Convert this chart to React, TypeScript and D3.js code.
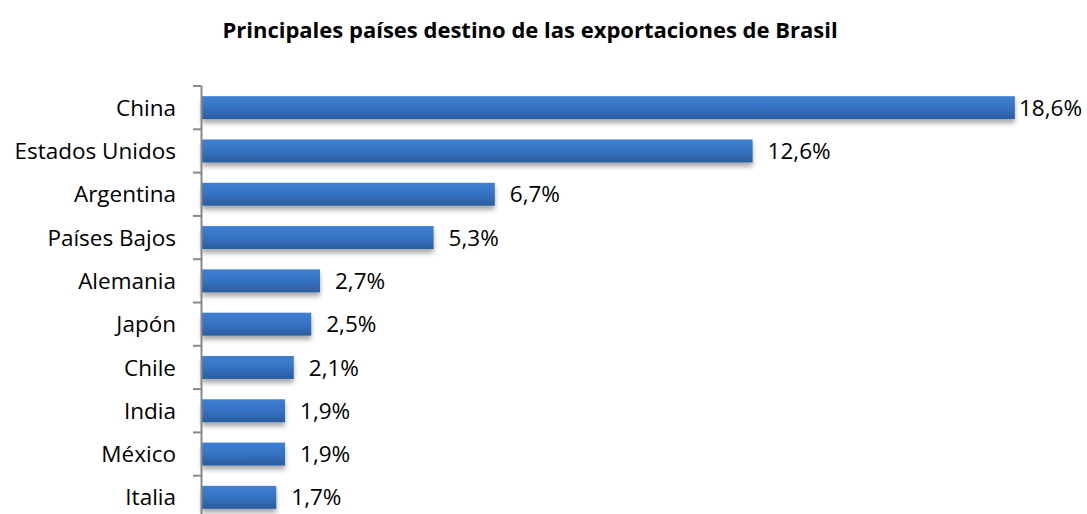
import React from "react";
import * as d3 from "d3";

const countries = ["China", "Estados Unidos", "Argentina", "Países Bajos", "Alemania", "Japón", "Chile", "India", "México", "Italia"];
const shares = [18.6, 12.6, 6.7, 5.3, 2.7, 2.5, 2.1, 1.9, 1.9, 1.7];
const title = "Principales países destino de las exportaciones de Brasil";

const W = 1087;
const H = 514;
const left = 202;
const top = 86;
const step = 43.3;

export default function App() {
  const x = d3.scaleLinear().domain([0, 20]).range([left, left + 874]);
  const y = d3.scaleBand().domain(countries).range([top, top + step * countries.length]).paddingInner(0.47).paddingOuter(0.235);
  const fmt = (v: number) => v.toFixed(1).replace(".", ",") + "%";
  const font = "'Open Sans', sans-serif";
  const tickYs = d3.range(countries.length + 1).map((i) => top + i * step);
  return (
    <svg width={W} height={H} style={{ position: "absolute", left: 0, top: 0, background: "#fff" }} fontFamily={font}>
      <defs>
        <linearGradient id="barGrad" x1="0" y1="0" x2="0" y2="1">
          <stop offset="0" stopColor="#3f80d4" />
          <stop offset="0.5" stopColor="#3672c2" />
          <stop offset="1" stopColor="#2b5c9e" />
        </linearGradient>
        <filter id="shadow" x="-5%" y="-30%" width="110%" height="190%">
          <feGaussianBlur in="SourceAlpha" stdDeviation="2.5" />
          <feOffset dx="0" dy="4" result="b" />
          <feComponentTransfer>
            <feFuncA type="linear" slope="0.35" />
          </feComponentTransfer>
          <feMerge>
            <feMergeNode />
            <feMergeNode in="SourceGraphic" />
          </feMerge>
        </filter>
      </defs>
      <text x={530} y={38} textAnchor="middle" fontWeight="bold" fontSize={22} fill="#000">{title}</text>
      {countries.map((c, i) => {
        const lx = Math.min(x(shares[i]) + 15, 1019);
        return (
          <g key={c}>
            <rect x={x(0)} y={y(c)!} width={x(shares[i]) - x(0)} height={y.bandwidth()} fill="url(#barGrad)" filter="url(#shadow)" />
            <text x={lx} y={y(c)! + y.bandwidth() / 2} dy="0.36em" fontSize={22.5} fill="#000">{fmt(shares[i])}</text>
            <text x={176} y={y(c)! + y.bandwidth() / 2} dy="0.36em" textAnchor="end" fontSize={22.5} fill="#000">{c}</text>
          </g>
        );
      })}
      <line x1={left - 0.5} x2={left - 0.5} y1={top} y2={top + step * countries.length} stroke="#888" strokeWidth={2} />
      {tickYs.map((t, i) => (
        <line key={i} x1={left - 9} x2={left - 0.5} y1={t} y2={t} stroke="#888" strokeWidth={2} />
      ))}
    </svg>
  );
}
